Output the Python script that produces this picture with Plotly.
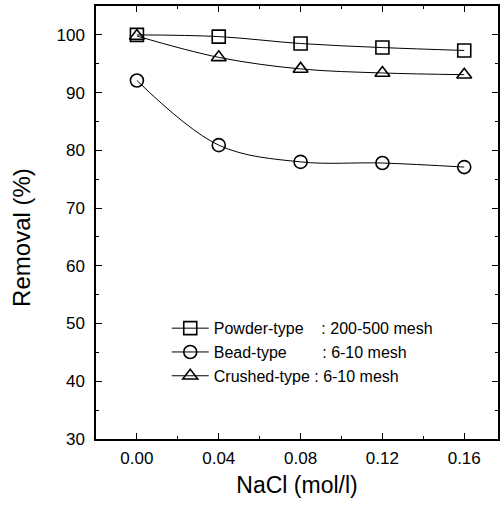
import plotly.graph_objects as go

nacl = [0.00, 0.04, 0.08, 0.12, 0.16]
powder = [100.0, 99.7, 98.5, 97.8, 97.3]
bead = [92.1, 80.9, 78.0, 77.8, 77.1]
crushed = [99.8, 96.1, 94.1, 93.4, 93.1]

nb = "\u00a0"
names = [
    "Powder-type" + nb * 4 + ": 200-500 mesh",
    "Bead-type" + nb * 8 + ": 6-10 mesh",
    "Crushed-type" + nb + ": 6-10 mesh",
]
series = [powder, bead, crushed]
symbols = ["square-open", "circle-open", "triangle-up-open"]

fig = go.Figure()
for i, (nm, ys, sym) in enumerate(zip(names, series, symbols)):
    fig.add_trace(go.Scatter(
        x=nacl, y=ys, name=nm, mode="lines+markers", legendgroup=f"g{i}",
        line=dict(color="black", width=1, shape="spline", smoothing=1),
        marker=dict(symbol=sym, size=13, color="black", line=dict(width=1.6, color="black")),
    ))

font = "Liberation Sans, Arial, sans-serif"
fig.update_layout(
    width=504, height=510,
    margin=dict(l=96, r=4, t=5, b=71),
    paper_bgcolor="white", plot_bgcolor="white",
    font=dict(family=font, color="black", size=16),
    showlegend=True,
    legend=dict(x=0.176, y=0.295, xanchor="left", yanchor="top",
                bgcolor="rgba(0,0,0,0)", font=dict(size=16, family=font),
                tracegroupgap=0, itemwidth=37),
    annotations=[dict(
        text="Removal (%)", textangle=-90, showarrow=False,
        xref="paper", yref="paper", x=-0.186, y=0.465,
        xanchor="center", yanchor="middle", font=dict(size=24),
    )],
)
fig.update_xaxes(
    range=[-0.02, 0.1765], tickvals=[0.0, 0.04, 0.08, 0.12, 0.16],
    ticktext=["0.00", "0.04", "0.08", "0.12", "0.16"],
    ticks="inside", ticklen=6, tickwidth=1, tickcolor="black",
    minor=dict(ticks="inside", ticklen=3, dtick=0.02, tick0=0, tickcolor="black"),
    showline=True, linecolor="black", linewidth=1.5, mirror="ticks",
    showgrid=False, zeroline=False, ticklabelstandoff=3,
    title=dict(text="NaCl (mol/l)", font=dict(size=23), standoff=10),
    tickfont=dict(size=17),
)
fig.update_yaxes(
    range=[30, 105], tickvals=[30, 40, 50, 60, 70, 80, 90, 100],
    ticks="inside", ticklen=6, tickwidth=1, tickcolor="black",
    minor=dict(ticks="inside", ticklen=3, dtick=5, tick0=0, tickcolor="black"),
    showline=True, linecolor="black", linewidth=1.5, mirror="ticks",
    showgrid=False, zeroline=False, ticklabelstandoff=6,
    tickfont=dict(size=17),
)
fig.write_html("out.html")
